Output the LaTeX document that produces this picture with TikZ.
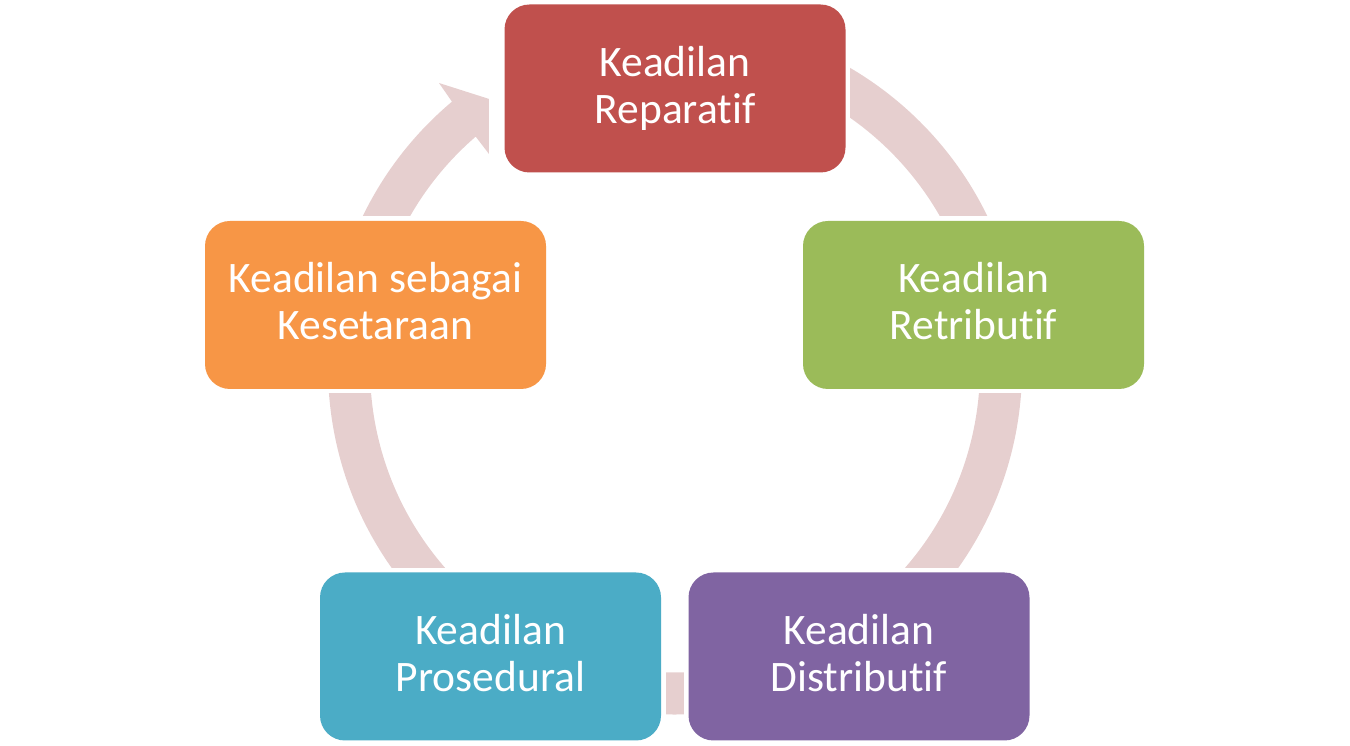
\documentclass[tikz,border=0pt]{standalone}
\usepackage{fontspec}
\setmainfont{Carlito}[Ligatures={NoCommon,NoRare,NoContextual}]
\usetikzlibrary{calc,backgrounds}
\definecolor{ringc}{RGB}{230,207,207}
\definecolor{cred}{HTML}{C0504D}
\definecolor{cgreen}{HTML}{9BBB59}
\definecolor{cpurple}{HTML}{8064A2}
\definecolor{cblue}{HTML}{4BACC6}
\definecolor{corange}{HTML}{F79646}
\newcommand{\topline}{\rule{0pt}{33pt}}
\newcommand{\botline}{\rule[-10pt]{0pt}{10pt}}
\tikzset{
  cbox/.style={rectangle, rounded corners=25pt, minimum width=341pt, minimum height=168pt,
    inner sep=0pt, outer sep=0pt, text=white, align=center,
    font=\fontsize{43.5pt}{47pt}\selectfont},
  halo/.style={fill=white}
}
\begin{document}
\begin{tikzpicture}[x=1pt,y=1pt]
\useasboundingbox (0,0) rectangle (1350,746);
\node[cbox, fill=cred]    (rep) at (675,657.5) {\topline Keadilan\\Reparatif\botline};
\node[cbox, fill=cgreen]  (ret) at (973.5,441) {\topline Keadilan\\Retributif\botline};
\node[cbox, fill=cpurple] (dis) at (859,89.5)  {\topline Keadilan\\Distributif\botline};
\node[cbox, fill=cblue]   (pro) at (490.5,89.5) {\topline Keadilan\\Prosedural\botline};
\node[cbox, fill=corange] (kes) at (375.5,441) {\topline Keadilan sebagai\\Kesetaraan\botline};
\coordinate (C) at (675,378.5);
\coordinate (ob) at (439,663);
\coordinate (tip) at (530,634);
\coordinate (ib) at (489,592);
\begin{pgfonlayer}{background}
  \fill[ringc] ($(C)+(95:347)$) arc[start angle=95, end angle=-230, radius=347]
     -- (ob) -- (tip) -- (ib) -- ($(C)+(-229.2:305)$)
     arc[start angle=-229.2, end angle=95, radius=305] -- cycle;
  \fill[halo] ($(rep.south west)+(-16,-4.5)$) rectangle ($(rep.north east)+(4.5,4.5)$);
  \foreach \n in {ret,dis,pro,kes}
    \fill[halo] ($(\n.south west)+(-4.5,-4.5)$) rectangle ($(\n.north east)+(4.5,4.5)$);
\end{pgfonlayer}
\end{tikzpicture}
\end{document}
